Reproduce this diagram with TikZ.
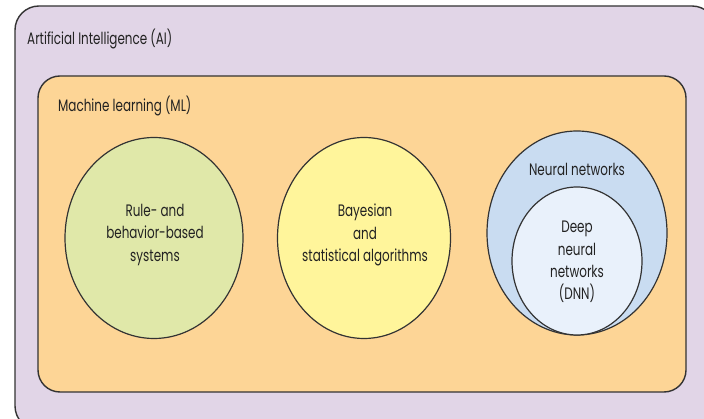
\documentclass[tikz,border=0pt]{standalone}
\usepackage{fontspec}
\setmainfont{Poppins}[FakeStretch=0.72]
\usetikzlibrary{shapes.geometric}
\definecolor{aibg}{HTML}{E1D5E7}
\definecolor{mlbg}{HTML}{FDD596}
\definecolor{rulebg}{HTML}{E0E8A9}
\definecolor{bayesbg}{HTML}{FFF59B}
\definecolor{nnbg}{HTML}{C9DCF1}
\definecolor{dnnbg}{HTML}{E9F1FB}
\definecolor{edge}{HTML}{333333}
\definecolor{ink}{HTML}{222222}
\tikzset{
  frame/.style={draw=edge, line width=1.4pt},
  blob/.style={ellipse, draw=edge, line width=1.2pt, inner sep=0pt},
  lbl/.style={font=\fontsize{16.6}{22.3}\selectfont, text=ink, align=center, inner sep=0pt},
  title/.style={font=\fontsize{16.6}{18}\selectfont, text=ink, anchor=west, inner sep=0pt}
}
\begin{document}
\begin{tikzpicture}[x=1pt, y=-1pt]
\useasboundingbox (0,0) rectangle (704,419);
\begin{scope}
\clip (0,0) rectangle (704,419);
\draw[frame, fill=aibg, rounded corners=24pt] (15,6) rectangle (716,430);
\end{scope}
\draw[frame, fill=mlbg, rounded corners=22pt] (38,76) rectangle (686,392);
\node[title] (ai) at (27,39) {Artificial Intelligence (AI)};
\node[title] (ml) at (58,106) {Machine learning (ML)};
\node[blob, fill=rulebg, minimum width=178pt, minimum height=201pt] (rule) at (154,238) {};
\node[blob, fill=bayesbg, minimum width=173pt, minimum height=201pt] (bayes) at (364,238) {};
\node[blob, fill=nnbg, minimum width=180pt, minimum height=204pt] (nn) at (577,233) {};
\node[blob, fill=dnnbg, minimum width=130pt, minimum height=148pt] (dnn) at (577,261) {};
\node[lbl] (ruletxt) at (155,235) {Rule- and\\behavior-based\\systems};
\node[lbl] (bayestxt) at (365,235) {Bayesian\\and\\statistical algorithms};
\node[lbl] (nntxt) at (577,169) {Neural networks};
\node[lbl] (dnntxt) at (577,262) {Deep\\neural\\networks\\(DNN)};
\end{tikzpicture}
\end{document}
